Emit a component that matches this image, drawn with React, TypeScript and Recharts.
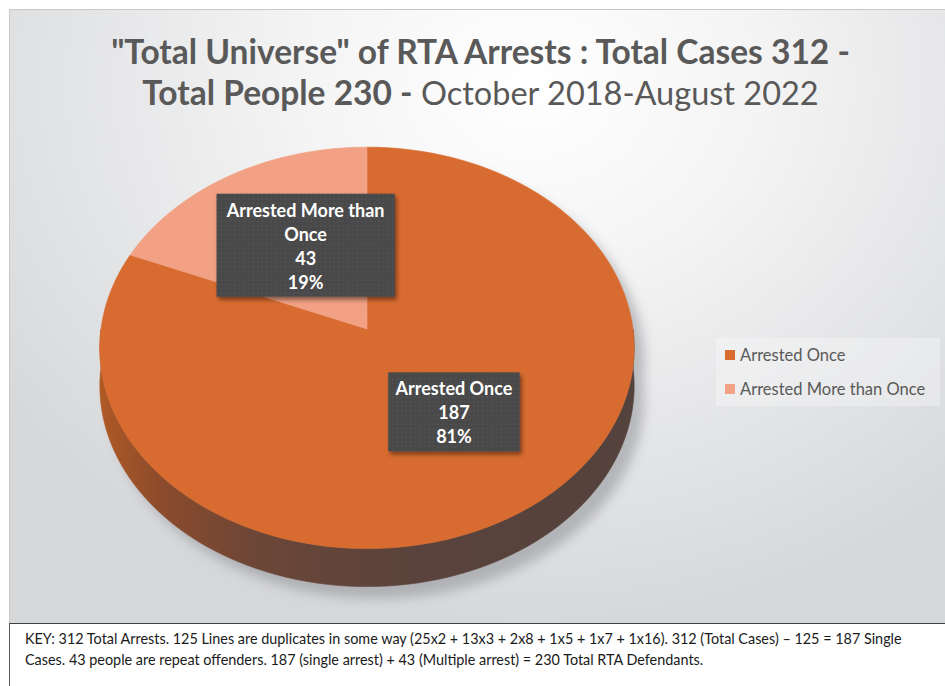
import React from "react";
import { PieChart, Pie, Cell, Legend } from "recharts";

// values
const categories = ["Arrested Once", "Arrested More than Once"];
const counts = [187, 43];
const sliceColors = ["#D86B30", "#F2A184"];

const titleLine1 = "\"Total Universe\" of RTA Arrests : Total Cases 312 -";
const titleLine2Bold = "Total People 230 -";
const titleLine2Rest = " October 2018-August 2022";
const keyLines = [
  "KEY: 312 Total Arrests. 125 Lines are duplicates in some way (25x2 + 13x3 + 2x8 + 1x5 + 1x7 + 1x16). 312 (Total Cases) \u2013 125 = 187 Single",
  "Cases. 43 people are repeat offenders. 187 (single arrest) + 43 (Multiple arrest) = 230 Total RTA Defendants.",
];

const data = categories.map((name, i) => ({ name, value: counts[i] }));

const FONT = "Lato, 'Open Sans', sans-serif";

// tilted-disc look: squash + a little perspective, plus a side wall
const SQUASH = 0.748;
const PERSP = 0.094;
const DEPTH = 38;

function proj(cx: number, cy: number, r: number, deg: number, dy = 0) {
  const t = (deg * Math.PI) / 180;
  const X = Math.cos(t);
  const Y = Math.sin(t);
  const d = 1 + PERSP * Y;
  return [cx + (r * X) / d, cy - (r * SQUASH * Y) / d + dy];
}

function arc(cx: number, cy: number, r: number, a0: number, a1: number, dy = 0) {
  const n = Math.max(2, Math.ceil(Math.abs(a1 - a0) / 2));
  const pts: number[][] = [];
  for (let i = 0; i <= n; i++) pts.push(proj(cx, cy, r, a0 + ((a1 - a0) * i) / n, dy));
  return pts;
}

const toPath = (pts: number[][]) =>
  "M" + pts.map((p) => `${p[0].toFixed(2)},${p[1].toFixed(2)}`).join("L") + "Z";

function topPath(p: any) {
  return toPath([[p.cx, p.cy], ...arc(p.cx, p.cy, p.outerRadius, p.startAngle, p.endAngle)]);
}

function wallPaths(p: any) {
  const lo = Math.min(p.startAngle, p.endAngle);
  const hi = Math.max(p.startAngle, p.endAngle);
  const out: string[] = [];
  for (let k = -2; k <= 1; k++) {
    const a = Math.max(lo, 180 + 360 * k);
    const b = Math.min(hi, 360 + 360 * k);
    if (b > a) {
      const top = arc(p.cx, p.cy, p.outerRadius, a, b);
      const bottom = arc(p.cx, p.cy, p.outerRadius, b, a, DEPTH);
      out.push(toPath([...top, ...bottom]));
    }
  }
  return out;
}

const TopShape = (p: any) => (
  <path d={topPath(p)} fill={p.fill} stroke={p.fill} strokeWidth={0.6} />
);

const WallShape = (p: any) => (
  <g>
    {wallPaths(p).map((d, i) => (
      <path key={i} d={d} fill={p.fill} stroke={p.fill} strokeWidth={0.6} />
    ))}
  </g>
);

const ShadowShape = (p: any) => (
  <g filter="url(#pieBlur)" opacity={0.5} transform="translate(10,12)">
    <path d={topPath(p)} fill="#85878d" />
    {wallPaths(p).map((d, i) => (
      <path key={i} d={d} fill="#85878d" />
    ))}
  </g>
);

function wrap(text: string, max: number) {
  const lines: string[] = [];
  let cur = "";
  text.split(" ").forEach((w) => {
    if (cur && (cur + " " + w).length > max) {
      lines.push(cur);
      cur = w;
    } else cur = cur ? cur + " " + w : w;
  });
  if (cur) lines.push(cur);
  return lines;
}

const renderLabel = (p: any) => {
  const name = p.name ?? p.payload?.name;
  const [x, y] = proj(p.cx, p.cy, p.outerRadius * 0.5, p.midAngle);
  const lines = [...wrap(name, 18), String(p.value), `${Math.round(p.percent * 100)}%`];
  const w = Math.max(...lines.map((l) => l.length)) * 9.35 + 10;
  const h = lines.length * 24 + 7;
  const bx = x + 7 - w / 2;
  const by = y - 7 - h / 2;
  return (
    <g>
      <rect x={bx} y={by} width={w} height={h} fill="url(#dots)" filter="url(#boxShadow)" />
      {lines.map((l, i) => (
        <text
          key={i}
          x={bx + w / 2}
          y={by + 23 + i * 24}
          textAnchor="middle"
          fill="#ffffff"
          fontFamily={FONT}
          fontWeight="bold"
          fontSize={18}
        >
          {l}
        </text>
      ))}
    </g>
  );
};

const renderLegend = (props: any) => {
  const shown = (props.payload || []).filter((e: any) => e.type !== "none");
  const items = categories
    .map((c) => shown.find((e: any) => e.value === c))
    .filter(Boolean);
  return (
    <div style={{ paddingTop: 0, paddingLeft: 9 }}>
      {items.map((e: any) => (
        <div
          key={e.value}
          style={{ display: "flex", alignItems: "center", height: 34, fontFamily: FONT, fontSize: 16.5, color: "#595959" }}
        >
          <span style={{ width: 10, height: 10, background: e.color, marginRight: 5, display: "inline-block" }} />
          {e.value}
        </div>
      ))}
    </div>
  );
};

export default function App() {
  return (
    <div style={{ position: "absolute", left: 0, top: 0, width: 945, height: 686, overflow: "hidden", background: "#fff" }}>
      <div
        style={{
          position: "absolute",
          left: 9,
          top: 9,
          width: 945,
          height: 614,
          borderTop: "1px solid #c9c9c9",
          borderLeft: "1px solid #c9c9c9",
          background:
            "radial-gradient(ellipse 70% 90% at 55% 12%, #ffffff 0%, #f4f4f4 35%, #e3e4e6 70%, #d6d7d9 100%)",
        }}
      />
      <div style={{ position: "absolute", left: 0, top: 0 }}>
        <PieChart width={945} height={686}>
          <defs>
            <linearGradient id="wallGrad" gradientUnits="userSpaceOnUse" x1={96} y1={0} x2={628} y2={0}>
              <stop offset="0%" stopColor="#b25a24" />
              <stop offset="12%" stopColor="#8c4b2c" />
              <stop offset="30%" stopColor="#6c4637" />
              <stop offset="60%" stopColor="#5a433c" />
              <stop offset="100%" stopColor="#54423c" />
            </linearGradient>
            <filter id="pieBlur" x="-20%" y="-20%" width="140%" height="140%">
              <feGaussianBlur stdDeviation="6" />
            </filter>
            <filter id="boxShadow" x="-10%" y="-10%" width="130%" height="130%">
              <feDropShadow dx="2" dy="3" stdDeviation="2" floodColor="#000" floodOpacity="0.45" />
            </filter>
            <pattern id="dots" width="4.5" height="4.5" patternUnits="userSpaceOnUse">
              <rect width="4.5" height="4.5" fill="#48484a" />
              <circle cx="1.2" cy="1.2" r="0.7" fill="#5d5d60" />
            </pattern>
          </defs>
          <Pie
            data={data}
            dataKey="value"
            nameKey="name"
            cx={362}
            cy={324}
            outerRadius={266}
            startAngle={90}
            endAngle={-270}
            stroke="none"
            legendType="none"
            isAnimationActive={false}
            shape={ShadowShape}
          />
          <Pie
            data={data}
            dataKey="value"
            nameKey="name"
            cx={362}
            cy={324}
            outerRadius={266}
            startAngle={90}
            endAngle={-270}
            stroke="none"
            legendType="none"
            isAnimationActive={false}
            shape={WallShape}
          >
            {data.map((d) => (
              <Cell key={d.name} fill="url(#wallGrad)" />
            ))}
          </Pie>
          <Pie
            data={data}
            dataKey="value"
            nameKey="name"
            cx={362}
            cy={324}
            outerRadius={266}
            startAngle={90}
            endAngle={-270}
            stroke="none"
            isAnimationActive={false}
            shape={TopShape}
            label={renderLabel}
            labelLine={false}
          >
            {data.map((d, i) => (
              <Cell key={d.name} fill={sliceColors[i]} />
            ))}
          </Pie>
          <Legend
            layout="vertical"
            content={renderLegend}
            wrapperStyle={{ position: "absolute", left: 716, top: 338, width: 224, height: 68, background: "rgba(255,255,255,0.3)" }}
          />
        </PieChart>
      </div>
      <div
        style={{
          position: "absolute",
          left: 9,
          top: 31,
          width: 943,
          textAlign: "center",
          fontFamily: FONT,
          fontSize: 33.5,
          lineHeight: "41px",
          color: "#595959",
        }}
      >
        <div style={{ fontWeight: "bold" }}>{titleLine1}</div>
        <div>
          <span style={{ fontWeight: "bold" }}>{titleLine2Bold}</span>
          <span style={{ fontSize: 32.5 }}>{titleLine2Rest}</span>
        </div>
      </div>
      <div
        style={{
          position: "absolute",
          left: 9,
          top: 623,
          width: 945,
          height: 80,
          background: "#fff",
          borderTop: "1px solid #3f3f3f",
          borderLeft: "1px solid #595959",
          boxSizing: "border-box",
          padding: "4px 0 0 15px",
          fontFamily: FONT,
          fontSize: 14.4,
          lineHeight: "21px",
          color: "#1a1a1a",
          whiteSpace: "nowrap",
        }}
      >
        {keyLines.map((l) => (
          <div key={l}>{l}</div>
        ))}
      </div>
    </div>
  );
}
